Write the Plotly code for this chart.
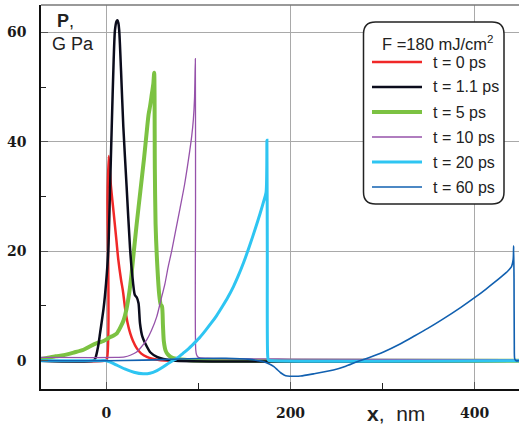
import plotly.graph_objects as go

# Pressure profiles P(x) at successive times after the pulse, F = 180 mJ/cm^2
# x: depth, nm;  p: pressure, GPa

x_t0 = [-71, -2, 0.6, 1.4, 2.6, 5, 8, 11, 13, 16, 18, 20.5, 23, 26, 29, 33,
        38, 44, 50, 59, 70, 100, 449]
p_t0 = [0, 0, 0.3, 30, 37.4, 32, 27, 22, 18.5, 14.8, 12.8, 9.5, 7, 5, 3.6, 2.3,
        1.3, 0.7, 0.35, 0.1, 0, 0, 0]

x_t1 = [-71, -14, -12, -9, -6.8, -3, -0.3, 2.2, 4, 5.9, 8, 9.4, 11, 12, 13, 14,
        16, 18.5, 22, 25.8, 28, 31, 33, 35, 36.6, 39, 44, 48, 55, 62, 75, 449]
p_t1 = [0, 0, 0.4, 2.5, 5, 9.5, 14.1, 20.2, 31, 42.7, 55, 60.4, 62, 62.2, 61.8,
        60.4, 53, 42.7, 32, 20.5, 16, 12, 11.6, 10.5, 6.8, 4.5, 2.6, 1.5, 0.7,
        0.3, 0, 0]

x_t5 = [-71, -64.5, -55, -46.4, -35, -24.7, -18, -10.2, -3, 3, 8, 11.5, 15,
        18.8, 22, 25, 27.5, 29.6, 33, 37, 41, 44, 45.9, 47.5, 49.5, 51, 52,
        52.7, 53.5, 55.5, 57.5, 59, 60.5, 61.5, 62.5, 64.5, 67, 70, 76, 90,
        120, 449]
p_t5 = [0.3, 0.5, 0.8, 1.0, 1.5, 2.0, 2.6, 3.2, 3.6, 4.2, 4.6, 5, 6, 7.4, 9.5,
        12.5, 16, 19.5, 25, 31, 37, 42, 45, 46.5, 48.8, 50.5, 52.6,
        35, 25, 17, 12, 10.3, 9.9, 6.5, 3.5, 1.8, 1.1, 0.7, 0.35, 0.1,
        0, 0]

x_t10 = [-71, 10, 20, 26, 33, 38, 43.9, 49, 54.7, 59, 63.7, 67, 71.2, 75, 80,
         85, 89, 92.7, 94.5, 95.8, 96.7, 96.9, 97.1, 98, 100, 110, 200, 449]
p_t10 = [0.6, 0.6, 0.7, 1.0, 1.6, 2.5, 3.8, 5.5, 8, 10.9, 14.1, 17, 20.2, 23.5,
         27.8, 32.2, 36.5, 41, 44, 48, 55.2, 30, 2.0, 1.1, 0.6, 0.45, 0.3, 0.2]

x_t20 = [-71, -10, 0, 5, 10, 20, 30, 40, 47.4, 55, 62, 68, 72, 76.5, 83, 90,
         96, 101.7, 108, 114, 120, 126, 132, 138.2, 143, 149, 155.4, 162.7,
         167, 171, 173.5, 174.4, 174.8, 175.2, 176, 180, 449]
p_t20 = [0, 0, 0, -0.3, -0.7, -1.5, -2.1, -2.4, -2.3, -1.8, -1.1, -0.4, 0.0,
         0.4, 1.3, 2.3, 3.3, 4.3, 5.6, 6.9, 8.3, 9.9, 11.6, 13.6, 15.4, 17.9,
         20.9, 24.6, 26.9, 29.2, 30.8, 40.3, 20, 1, 0.1, 0, 0]

x_t60 = [-71, 0, 40, 80, 100, 130, 156, 165, 171, 177, 182, 186, 189.3, 193,
         196.6, 205, 211, 225, 246.6, 260, 272, 285, 301, 319, 335, 349, 365,
         385, 401, 412, 421, 430, 436, 440, 441.8, 442.3, 442.7, 443.0,
         443.5, 445, 449]
p_t60 = [0, 0, 0.1, 0.3, 0.4, 0.45, 0.25, 0, -0.2, -0.6, -1.1, -1.7, -2.2,
         -2.6, -2.8, -2.85, -2.8, -2.4, -1.7, -1.0, -0.2, 0.55, 1.6, 3.05, 4.55,
         5.9, 7.55, 9.75, 11.65, 13.05, 14.25, 15.5, 16.4, 17.2, 18.5, 21, 15,
         3, 0.3, 0, 0]

labels = ["t = 0 ps", "t = 1.1 ps", "t = 5 ps", "t = 10 ps", "t = 20 ps",
          "t = 60 ps"]
colors = ["#f02828", "#0b0c1c", "#7cc242", "#9652aa", "#2ec5f2", "#1160b0"]
widths = [2.5, 2.5, 4, 1.3, 3, 1.6]
series = [(x_t0, p_t0), (x_t1, p_t1), (x_t5, p_t5), (x_t10, p_t10),
          (x_t20, p_t20), (x_t60, p_t60)]
draw_order = [0, 2, 1, 3, 4, 5]

W, H = 519, 426
ML, MR, MT, MB = 41, 0, 5, 37
PW, PH = W - ML - MR, H - MT - MB


def fx(px):
    return (px - ML) / PW


def fy(py):
    return (H - MB - py) / PH


fig = go.Figure()
for i in draw_order:
    xs, ys = series[i]
    fig.add_trace(go.Scatter(
        x=xs, y=ys, mode="lines", name=labels[i],
        line=dict(color=colors[i], width=widths[i], shape="spline",
                  smoothing=0.7),
        showlegend=False, hoverinfo="skip"))

tick_font = dict(family="DejaVu Serif", size=14, color="#1a1a1a", weight="bold")

fig.update_layout(
    width=W, height=H,
    margin=dict(l=ML, r=MR, t=MT, b=MB),
    paper_bgcolor="white", plot_bgcolor="white",
    xaxis=dict(
        range=[-70.9, 448.1], tick0=0, dtick=200,
        showgrid=True, gridcolor="#a9a9a9", gridwidth=1.3,
        zeroline=False, showline=True, linecolor="#111", linewidth=1.5,
        ticks="inside", ticklen=7, tickwidth=1.3, tickcolor="#555",
        minor=dict(dtick=100, ticks="inside", ticklen=6, tickwidth=1.3,
                   tickcolor="#222", showgrid=False),
        tickfont=tick_font, ticklabelstandoff=10),
    yaxis=dict(
        range=[-5.17, 65.0], tick0=0, dtick=20,
        showgrid=True, gridcolor="#a9a9a9", gridwidth=1.3,
        zeroline=False, showline=True, linecolor="#111", linewidth=1.5,
        ticks="inside", ticklen=7, tickwidth=1.3, tickcolor="#555",
        minor=dict(dtick=10, ticks="inside", ticklen=5, tickwidth=1.3,
                   tickcolor="#222", showgrid=False),
        tickfont=tick_font, ticklabelstandoff=10),
)

shapes = []
# top frame line
shapes.append(dict(type="line", xref="paper", yref="paper", x0=0, x1=1,
                   y0=1, y1=1, line=dict(color="#777", width=1.5),
                   layer="above"))

# rounded legend frame
bx0, bx1, by0, by1, r = 363.5, 504, 22, 204, 12
path = (f"M {fx(bx0 + r)},{fy(by0)} L {fx(bx1 - r)},{fy(by0)} "
        f"Q {fx(bx1)},{fy(by0)} {fx(bx1)},{fy(by0 + r)} "
        f"L {fx(bx1)},{fy(by1 - r)} "
        f"Q {fx(bx1)},{fy(by1)} {fx(bx1 - r)},{fy(by1)} "
        f"L {fx(bx0 + r)},{fy(by1)} "
        f"Q {fx(bx0)},{fy(by1)} {fx(bx0)},{fy(by1 - r)} "
        f"L {fx(bx0)},{fy(by0 + r)} "
        f"Q {fx(bx0)},{fy(by0)} {fx(bx0 + r)},{fy(by0)} Z")
shapes.append(dict(type="path", xref="paper", yref="paper", path=path,
                   fillcolor="white", line=dict(color="#222", width=1.5),
                   layer="above"))

annotations = []
text_font = dict(family="Liberation Sans", size=16, color="#222")
annotations.append(dict(
    xref="paper", yref="paper", x=fx(437), y=fy(43), xanchor="center",
    yanchor="middle", showarrow=False,
    text="F =180 mJ/cm<sup>2</sup>",
    font=dict(family="Liberation Sans", size=16.5, color="#222")))

row0, row_step = 62, 25
for k, lab in enumerate(labels):
    yy = row0 + k * row_step
    shapes.append(dict(type="line", xref="paper", yref="paper",
                       x0=fx(372), x1=fx(422), y0=fy(yy), y1=fy(yy),
                       line=dict(color=colors[k], width=widths[k]),
                       layer="above"))
    annotations.append(dict(
        xref="paper", yref="paper", x=fx(431), y=fy(yy), xanchor="left",
        yanchor="middle", showarrow=False, text=lab, font=text_font))

# axis captions
annotations.append(dict(
    xref="paper", yref="paper", x=fx(55), y=fy(21), xanchor="left",
    yanchor="middle", showarrow=False, text="<b>P</b>,",
    font=dict(family="Liberation Sans", size=18, color="#222")))
annotations.append(dict(
    xref="paper", yref="paper", x=fx(50), y=fy(44), xanchor="left",
    yanchor="middle", showarrow=False, text="G Pa",
    font=dict(family="Liberation Sans", size=18, color="#222")))
annotations.append(dict(
    xref="paper", yref="paper", x=fx(365), y=fy(413), xanchor="left",
    yanchor="middle", showarrow=False, text="<b>x</b>,  nm",
    font=dict(family="Liberation Sans", size=21, color="#222")))

fig.update_layout(shapes=shapes, annotations=annotations)

fig.write_html("out.html")
